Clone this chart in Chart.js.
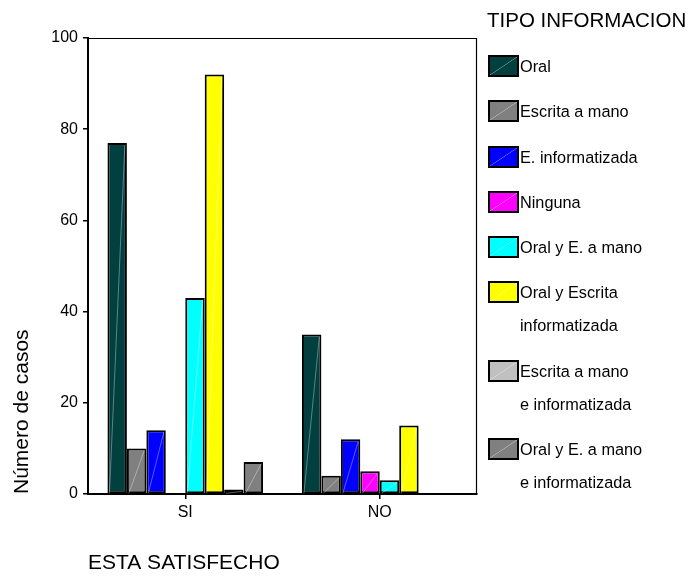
<!DOCTYPE html>
<html>
<head>
<meta charset="utf-8">
<script src="https://cdn.jsdelivr.net/npm/chart.js@4"></script>
<style>
  body { margin: 0; background: #fff; font-family: "Liberation Sans", Arial, sans-serif; }
  #wrap { position: relative; width: 688px; height: 576px; }
  #legend { position: absolute; left: 487px; top: 8px; color: #000; }
  #legend .title { font-size: 20.5px; line-height: 24px; margin-bottom: 18px; white-space: nowrap; }
  #legend .item { position: relative; padding-left: 33px; font-size: 16.3px; line-height: 33px; margin-bottom: 12.3px; white-space: pre-line; }
  #legend .box { position: absolute; left: 1px; top: 5px; width: 31px; height: 22px; box-sizing: border-box; border: 2px solid #000; }
</style>
</head>
<body>
<div id="wrap">
  <canvas id="board" width="688" height="576"></canvas>
  <div id="legend"></div>
</div>
<script>
const categories = ["SI", "NO"];
const seriesNames = [
  "Oral",
  "Escrita a mano",
  "E. informatizada",
  "Ninguna",
  "Oral y E. a mano",
  "Oral y Escrita\ninformatizada",
  "Escrita a mano\ne informatizada",
  "Oral y E. a mano\ne informatizada"
];
const colores = ["#024040", "#808080", "#0000ff", "#ff00ff", "#00ffff", "#ffff00", "#c0c0c0", "#808080"];
// valores por serie: [SI, NO]
const oral = [77, 35];
const escritaMano = [10, 4];
const eInformatizada = [14, 12];
const ninguna = [0, 5];
const oralEMano = [43, 3];
const oralEscritaInf = [92, 15];
const escritaManoInf = [1, 0];
const oralEManoInf = [7, 0];
const valores = [oral, escritaMano, eInformatizada, ninguna, oralEMano, oralEscritaInf, escritaManoInf, oralEManoInf];

const fuente = "'Liberation Sans', Arial, sans-serif";

// linea diagonal tenue dentro de cada barra + marco del area
const extras = {
  id: "extras",
  afterDatasetsDraw(chart) {
    const ctx = chart.ctx;
    ctx.save();
    ctx.strokeStyle = "rgba(255,255,255,0.35)";
    ctx.lineWidth = 1;
    chart.data.datasets.forEach((ds, i) => {
      chart.getDatasetMeta(i).data.forEach((bar, j) => {
        if (!ds.data[j]) return;
        const p = bar.getProps(["x", "y", "base", "width"], true);
        ctx.beginPath();
        ctx.moveTo(p.x - p.width / 2 + 2, p.base);
        ctx.lineTo(p.x + p.width / 2 - 2, p.y + 2);
        ctx.stroke();
      });
    });
    const a = chart.chartArea;
    ctx.strokeStyle = "#000";
    ctx.lineWidth = 1.2;
    ctx.beginPath();
    ctx.moveTo(a.left, a.top + 0.5);
    ctx.lineTo(a.right - 0.5, a.top + 0.5);
    ctx.lineTo(a.right - 0.5, a.bottom);
    ctx.stroke();
    ctx.restore();
  }
};

let canv = document.getElementById("board");
let chart = new Chart(canv, {
  type: "bar",
  data: {
    labels: categories,
    datasets: seriesNames.map((n, i) => ({
      label: n,
      data: valores[i],
      backgroundColor: colores[i],
      borderColor: "#000",
      borderWidth: 2,
      borderSkipped: false
    }))
  },
  options: {
    responsive: false,
    animation: false,
    layout: { padding: { top: 38, right: 211, left: 0, bottom: 0 } },
    plugins: { legend: { display: false }, tooltip: { enabled: false } },
    datasets: { bar: { categoryPercentage: 0.8, barPercentage: 1 } },
    scales: {
      x: {
        grid: { display: true, drawOnChartArea: false, offset: false, tickLength: 5, color: "#000", lineWidth: 1.5 },
        border: { display: true, color: "#000", width: 2 },
        ticks: { color: "#000", padding: 4, font: { family: fuente, size: 16 } },
        title: { display: true, text: "ESTA SATISFECHO", align: "start", color: "#000", padding: { top: 0, bottom: 0 }, font: { family: fuente, size: 21 } },
        afterFit(scale) { scale.height = 82; }
      },
      y: {
        min: 0,
        max: 100,
        grid: { display: true, drawOnChartArea: false, tickLength: 5, color: "#000", lineWidth: 1.5 },
        border: { display: true, color: "#000", width: 2 },
        ticks: { stepSize: 20, color: "#000", padding: 5, font: { family: fuente, size: 16 } },
        title: { display: true, text: "Número de casos", align: "start", color: "#000", padding: { top: 10, bottom: 0 }, font: { family: fuente, size: 21 } },
        afterFit(scale) { scale.width = 88; }
      }
    }
  },
  plugins: [extras]
});

// leyenda en HTML a partir de los datasets
const leg = document.getElementById("legend");
let html = '<div class="title">TIPO INFORMACION</div>';
chart.data.datasets.forEach(ds => {
  const c = ds.backgroundColor;
  html += '<div class="item"><span class="box" style="background:linear-gradient(to bottom right,' + c + ' 48%,rgba(255,255,255,0.45) 50%,' + c + ' 52%),' + c + '"></span>' + ds.label + '</div>';
});
leg.innerHTML = html;
</script>
</body>
</html>
